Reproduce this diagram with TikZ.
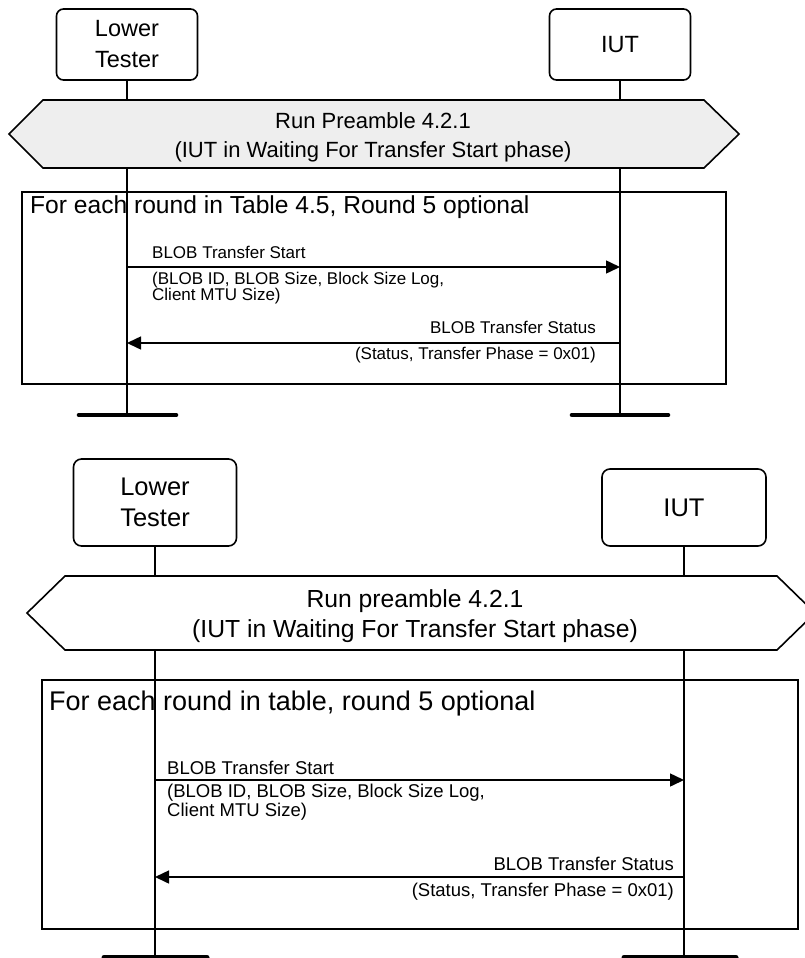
\documentclass[tikz,border=0pt]{standalone}
\usepackage{fontspec}
\setmainfont{Liberation Sans}
\usetikzlibrary{arrows.meta}
\definecolor{hexgray}{RGB}{238,238,238}
\begin{document}
\begin{tikzpicture}[x=1pt,y=-1pt,
  actor/.style={draw, line width=1.6pt, rounded corners=7pt, align=center, inner sep=0pt},
  life/.style={line width=1.6pt},
  endbar/.style={line width=4.6pt, line cap=round},
  msg/.style={line width=1.5pt, -{Triangle[length=14pt,width=13pt]}},
  hexa/.style={draw, line width=1.6pt},
  loopbox/.style={draw, line width=1.6pt},
  lbl/.style={inner sep=0pt},
]
\useasboundingbox (0,0) rectangle (805,958);
\clip (0,0) rectangle (805,958);
\fill[white] (0,0) rectangle (805,958);

% ================= TOP DIAGRAM =================
\node[actor, minimum width=141pt, minimum height=71pt, font=\fontsize{23.5}{31}\selectfont] (ltA) at (127,44.5) {Lower\\Tester};
\node[actor, minimum width=141pt, minimum height=71pt, font=\fontsize{23.5}{31}\selectfont] (iutA) at (620,44.5) {IUT};
\coordinate (ltAend) at (127,415);
\coordinate (iutAend) at (620,415);
\draw[life] (ltA.south) -- (ltAend);
\draw[life] (iutA.south) -- (iutAend);
\draw[endbar] (79,415) -- (176,415);
\draw[endbar] (572,415) -- (668,415);

\draw[hexa, fill=hexgray] (9,134) -- (43,100) -- (704,100) -- (739,134) -- (704,168) -- (43,168) -- cycle;
\node[lbl, align=center, font=\fontsize{22}{29}\selectfont] (preA) at (373,137) {Run Preamble 4.2.1\\(IUT in Waiting For Transfer Start phase)};

\draw[loopbox] (22,192) rectangle (726,384);
\node[lbl, anchor=base west, font=\fontsize{24.6}{28}\selectfont] (loopA) at (30,213) {For each round in Table 4.5, Round 5 optional};

\coordinate (ltA1) at (127,267);
\coordinate (iutA1) at (620,267);
\draw[msg] (ltA1) -- (iutA1);
\node[lbl, anchor=base west, font=\fontsize{17}{16}\selectfont] (m1A) at (152,258) {BLOB Transfer Start};
\node[lbl, anchor=north west, align=left, font=\fontsize{17}{16}\selectfont] (m1Ap) at (152,271.6) {(BLOB ID, BLOB Size, Block Size Log,\\Client MTU Size)};

\coordinate (ltA2) at (127,343);
\coordinate (iutA2) at (620,343);
\draw[msg] (iutA2) -- (ltA2);
\node[lbl, anchor=base east, font=\fontsize{17}{16}\selectfont] (m2A) at (596,333) {BLOB Transfer Status};
\node[lbl, anchor=base east, font=\fontsize{17}{16}\selectfont] (m2Ap) at (596,359) {(Status, Transfer Phase = 0x01)};

% ================= BOTTOM DIAGRAM =================
\node[actor, rounded corners=8pt, minimum width=163pt, minimum height=87pt, font=\fontsize{25.5}{31}\selectfont] (ltB) at (155,502.5) {Lower\\Tester};
\node[actor, rounded corners=8pt, minimum width=164pt, minimum height=77pt, font=\fontsize{25.5}{31}\selectfont] (iutB) at (684,507.5) {IUT};
\coordinate (ltBend) at (155,957.5);
\coordinate (iutBend) at (684,957.5);
\draw[life] (ltB.south) -- (ltBend);
\draw[life] (iutB.south) -- (iutBend);
\draw[endbar, line width=5pt] (104,957.5) -- (207,957.5);
\draw[endbar, line width=5pt] (624,957.5) -- (736,957.5);

\draw[hexa, fill=white] (27,613) -- (65,576) -- (777,576) -- (815,613) -- (777,650) -- (65,650) -- cycle;
\node[lbl, align=center, font=\fontsize{24.7}{30}\selectfont] (preB) at (415,616) {Run preamble 4.2.1\\(IUT in Waiting For Transfer Start phase)};

\draw[loopbox] (42,680) rectangle (798,929);
\node[lbl, anchor=base west, font=\fontsize{27}{30}\selectfont] (loopB) at (49,710) {For each round in table, round 5 optional};

\coordinate (ltB1) at (155,780);
\coordinate (iutB1) at (684,780);
\draw[msg] (ltB1) -- (iutB1);
\node[lbl, anchor=base west, font=\fontsize{18.5}{19}\selectfont] (m1B) at (167,774) {BLOB Transfer Start};
\node[lbl, anchor=north west, align=left, font=\fontsize{18.5}{19}\selectfont] (m1Bp) at (167,783.5) {(BLOB ID, BLOB Size, Block Size Log,\\Client MTU Size)};

\coordinate (ltB2) at (155,877);
\coordinate (iutB2) at (684,877);
\draw[msg] (iutB2) -- (ltB2);
\node[lbl, anchor=base east, font=\fontsize{18.5}{19}\selectfont] (m2B) at (674,870) {BLOB Transfer Status};
\node[lbl, anchor=base east, font=\fontsize{18.5}{19}\selectfont] (m2Bp) at (674,896) {(Status, Transfer Phase = 0x01)};
\end{tikzpicture}
\end{document}
